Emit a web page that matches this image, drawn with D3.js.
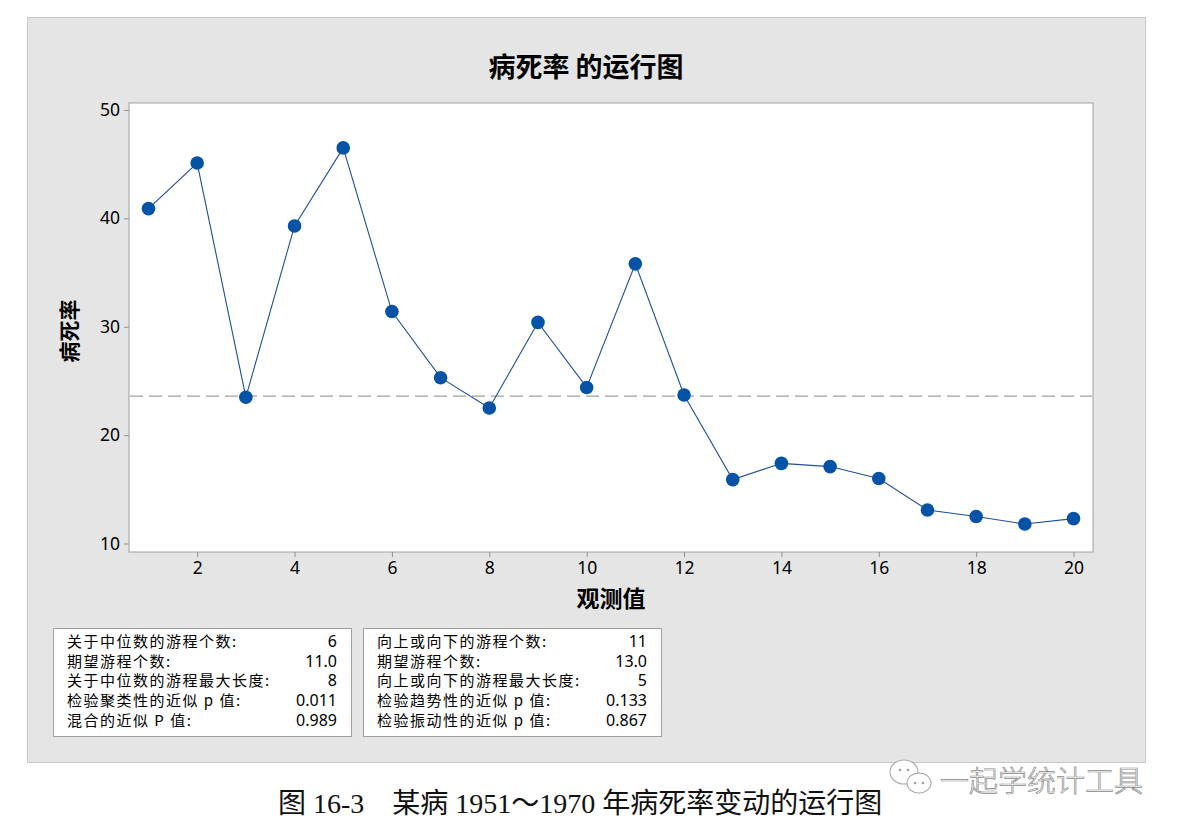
<!DOCTYPE html>
<html><head><meta charset="utf-8">
<script src="https://cdn.jsdelivr.net/npm/d3@7"></script>
<style>
body{margin:0;background:#fff;}
svg{display:block;}
</style></head>
<body>
<svg id="chart" width="1180" height="830"></svg>
<script>
// ---- data ----
const observations = [1,2,3,4,5,6,7,8,9,10,11,12,13,14,15,16,17,18,19,20];
const deathRate = [40.9,45.1,23.5,39.3,46.5,31.4,25.3,22.5,30.4,24.4,35.8,23.7,15.9,17.4,17.1,16.0,13.1,12.5,11.8,12.3];
const xTicks = [2,4,6,8,10,12,14,16,18,20];
const yTicks = [10,20,30,40,50];
const statsLeftLabels = ["关于中位数的游程个数:","期望游程个数:","关于中位数的游程最大长度:","检验聚类性的近似 p 值:","混合的近似 P 值:"];
const statsLeftValues = ["6","11.0","8","0.011","0.989"];
const statsRightLabels = ["向上或向下的游程个数:","期望游程个数:","向上或向下的游程最大长度:","检验趋势性的近似 p 值:","检验振动性的近似 p 值:"];
const statsRightValues = ["11","13.0","5","0.133","0.867"];
const titleText = "病死率 的运行图";
const xLabel = "观测值";
const yLabel = "病死率";
const captionText = "图 16-3　某病 1951～1970 年病死率变动的运行图";
const watermarkText = "一起学统计工具";

const median = d3.median(deathRate);
const sans = "'Segoe UI','Noto Sans','Noto Sans CJK SC',sans-serif";
const cjk = "'Noto Sans CJK SC','Noto Sans',sans-serif";

const svg = d3.select("#chart");

// outer gray panel
svg.append("rect").attr("x",27.5).attr("y",17.5).attr("width",1118).attr("height",745)
  .attr("fill","#e5e5e5").attr("stroke","#c8c8c8").attr("stroke-width",1);

const plot = {left:129, right:1093, top:103, bottom:552};
const x = d3.scaleLinear().domain([0.6,20.4]).range([plot.left,plot.right]);
const y = d3.scaleLinear().domain([9.22,50.64]).range([plot.bottom,plot.top]);

svg.append("rect").attr("x",plot.left).attr("y",plot.top)
  .attr("width",plot.right-plot.left).attr("height",plot.bottom-plot.top)
  .attr("fill","#fff").attr("stroke","#a0a0a0").attr("stroke-width",1);

// axes
const xAxis = svg.append("g").attr("transform",`translate(0,${plot.bottom})`)
  .call(d3.axisBottom(x).tickValues(xTicks).tickSize(5).tickPadding(5).tickFormat(d3.format("d")));
const yAxis = svg.append("g").attr("transform",`translate(${plot.left},0)`)
  .call(d3.axisLeft(y).tickValues(yTicks).tickSize(5).tickPadding(4).tickFormat(d3.format("d")));
[xAxis,yAxis].forEach(g=>{
  g.select(".domain").remove();
  g.selectAll(".tick line").attr("stroke","#909090");
  g.selectAll(".tick text").attr("fill","#000").style("font-family",sans).style("font-size","17.5px");
});

// median line
svg.append("line").attr("x1",plot.left+1).attr("x2",plot.right-1)
  .attr("y1",y(median)).attr("y2",y(median))
  .attr("stroke","#a0a0a0").attr("stroke-width",1.2).attr("stroke-dasharray","13,6");

// series line
const line = d3.line().x((d,i)=>x(observations[i])).y(d=>y(d));
svg.append("path").datum(deathRate).attr("d",line)
  .attr("fill","none").attr("stroke","#1f4f96").attr("stroke-width",1.1);

svg.append("g").selectAll("circle").data(deathRate).join("circle")
  .attr("cx",(d,i)=>x(observations[i])).attr("cy",d=>y(d)).attr("r",6.8)
  .attr("fill","#0453a6");

// title and axis labels
svg.append("text").attr("x",586).attr("y",77).attr("text-anchor","middle")
  .style("font-family",cjk).style("font-weight","bold").style("font-size","27px").text(titleText);
svg.append("text").attr("x",611).attr("y",607).attr("text-anchor","middle")
  .style("font-family",cjk).style("font-weight","bold").style("font-size","23px").text(xLabel);
svg.append("text").attr("transform","translate(77,331) rotate(-90)").attr("text-anchor","middle")
  .style("font-family",cjk).style("font-weight","bold").style("font-size","21px").text(yLabel);

// stats boxes
function statsBox(x0, labels, values){
  const g = svg.append("g");
  g.append("rect").attr("x",x0+0.5).attr("y",628.5).attr("width",298).attr("height",108)
    .attr("fill","#fff").attr("stroke","#a0a0a0");
  labels.forEach((t,i)=>{
    g.append("text").attr("x",x0+14).attr("y",647+i*19.7)
      .style("font-family",cjk).style("font-size","15px").style("letter-spacing","1.5px").text(t);
    g.append("text").attr("x",x0+284).attr("y",647+i*19.7).attr("text-anchor","end")
      .style("font-family",sans).style("font-size","16px").text(values[i]);
  });
}
statsBox(53, statsLeftLabels, statsLeftValues);
statsBox(363, statsRightLabels, statsRightValues);

// caption
svg.append("text").attr("x",278).attr("y",813)
  .style("font-family","'Liberation Serif','Noto Sans CJK SC',serif").style("font-size","28px")
  .attr("fill","#111").text(captionText);

// watermark
const wm = svg.append("g");
const bubble = (cx,cy,rx,ry)=>wm.append("ellipse").attr("cx",cx).attr("cy",cy).attr("rx",rx).attr("ry",ry)
  .attr("fill","#fff").attr("stroke","#a8a8a8").attr("stroke-width",1.1);
bubble(904,772,14,12);
bubble(919,783,12,10);
[[900,770],[908,770],[915,783],[923,783]].forEach(p=>wm.append("circle").attr("cx",p[0]).attr("cy",p[1]).attr("r",1.3).attr("fill","#a0a0a0"));
wm.append("text").attr("x",940).attr("y",792)
  .style("font-family",cjk).style("font-weight","300").style("font-size","29px").attr("fill","#fff")
  .attr("stroke","#8a8a8a").attr("stroke-width",0.7).text(watermarkText);
</script>
</body></html>
